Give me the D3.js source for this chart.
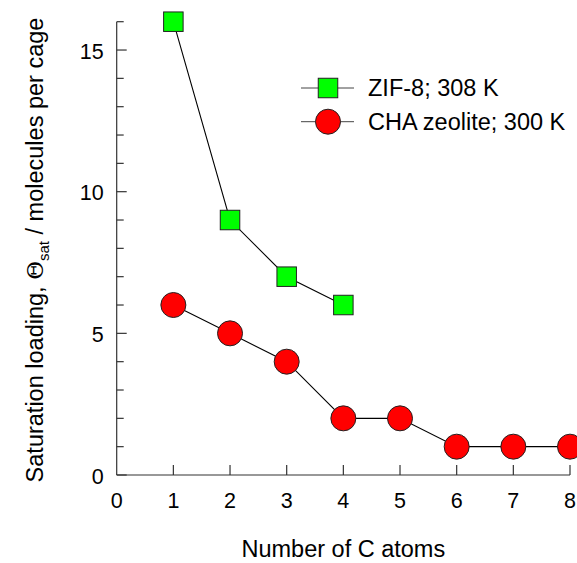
<!DOCTYPE html>
<html><head><meta charset="utf-8">
<script src="https://cdn.jsdelivr.net/npm/d3@7"></script>
<style>body{margin:0;background:#fff}text{font-family:"Liberation Sans",Arial,sans-serif;fill:#000}</style>
</head><body><svg id="c" width="577" height="563"></svg>
<script>
const carbonAtoms = [1,2,3,4,5,6,7,8];
const zifX = [1,2,3,4];
const zifValues = [16,9,7,6];
const chaX = [1,2,3,4,5,6,7,8];
const chaValues = [6,5,4,2,2,1,1,1];
const xTicks = [0,1,2,3,4,5,6,7,8];
const yMajorTicks = [0,5,10,15];
const yMinorTicks = [1,2,3,4,6,7,8,9,11,12,13,14,16];
const seriesNames = ["ZIF-8; 308 K","CHA zeolite; 300 K"];

const svg = d3.select("#c");
const x = d3.scaleLinear().domain([0,8]).range([116.7,570]);
const y = d3.scaleLinear().domain([0,16]).range([475,21.7]);
const axisColor = "#333";

const g = svg.append("g");
g.append("line").attr("x1",x(0)).attr("x2",x(0)).attr("y1",y(0)).attr("y2",y(16)).attr("stroke",axisColor).attr("stroke-width",1.2);
g.append("line").attr("x1",x(0)).attr("x2",x(8)).attr("y1",y(0)).attr("y2",y(0)).attr("stroke",axisColor).attr("stroke-width",1.2);

g.selectAll(".ymaj").data(yMajorTicks).enter().append("line")
  .attr("x1",x(0)).attr("x2",x(0)+10).attr("y1",d=>y(d)).attr("y2",d=>y(d)).attr("stroke",axisColor).attr("stroke-width",1.2);
g.selectAll(".ymin").data(yMinorTicks).enter().append("line")
  .attr("x1",x(0)).attr("x2",x(0)+7).attr("y1",d=>y(d)).attr("y2",d=>y(d)).attr("stroke",axisColor).attr("stroke-width",1.2);
g.selectAll(".ylab").data(yMajorTicks).enter().append("text")
  .attr("x",x(0)-13).attr("y",d=>y(d)).attr("dy","0.4em").attr("text-anchor","end")
  .attr("font-size",21.5).text(d=>d);

g.selectAll(".xt").data(xTicks.filter(d=>d>0)).enter().append("line")
  .attr("x1",d=>x(d)).attr("x2",d=>x(d)).attr("y1",y(0)).attr("y2",y(0)-10).attr("stroke",axisColor).attr("stroke-width",1.2);
g.selectAll(".xlab").data(xTicks).enter().append("text")
  .attr("x",d=>x(d)).attr("y",y(0)+33).attr("text-anchor","middle")
  .attr("font-size",21.5).text(d=>d);

svg.append("text").attr("x",(x(0)+x(8))/2).attr("y",557).attr("text-anchor","middle").attr("font-size",23.5).text("Number of C atoms");
const yt = svg.append("text").attr("transform",`translate(43,250) rotate(-90)`).attr("text-anchor","middle").attr("font-size",23.5);
yt.append("tspan").text("Saturation loading, ");
yt.append("tspan").attr("font-family","DejaVu Serif").attr("font-size",23).text("Θ");
yt.append("tspan").attr("font-size",15).attr("dy",6).text("sat");
yt.append("tspan").attr("dy",-6).text(" / molecules per cage");

const line = d3.line().x(d=>x(d[0])).y(d=>y(d[1]));
const zif = zifX.map((d,i)=>[d,zifValues[i]]);
const cha = chaX.map((d,i)=>[d,chaValues[i]]);
svg.append("path").attr("d",line(zif)).attr("fill","none").attr("stroke","#000").attr("stroke-width",1.1);
svg.append("path").attr("d",line(cha)).attr("fill","none").attr("stroke","#000").attr("stroke-width",1.1);

const sq = 19.5, r = 12.5;
svg.selectAll(".sq").data(zif).enter().append("rect")
  .attr("x",d=>x(d[0])-sq/2).attr("y",d=>y(d[1])-sq/2).attr("width",sq).attr("height",sq)
  .attr("fill","#00ff00").attr("stroke","#222").attr("stroke-width",1);
svg.selectAll(".ci").data(cha).enter().append("circle")
  .attr("cx",d=>x(d[0])).attr("cy",d=>y(d[1])).attr("r",r)
  .attr("fill","#ff0000").attr("stroke","#222").attr("stroke-width",1);

const lg = svg.append("g");
const ly = [88,121.7];
lg.selectAll(".ll").data(ly).enter().append("line").attr("x1",301).attr("x2",354).attr("y1",d=>d).attr("y2",d=>d).attr("stroke","#444").attr("stroke-width",1);
lg.append("rect").attr("x",328-sq/2).attr("y",ly[0]-sq/2).attr("width",sq).attr("height",sq).attr("fill","#00ff00").attr("stroke","#222");
lg.append("circle").attr("cx",328).attr("cy",ly[1]).attr("r",r).attr("fill","#ff0000").attr("stroke","#222");
lg.selectAll(".lt").data(seriesNames).enter().append("text").attr("x",368).attr("y",(d,i)=>ly[i]).attr("dy","0.36em").attr("font-size",23.5).text(d=>d);
</script></body></html>
